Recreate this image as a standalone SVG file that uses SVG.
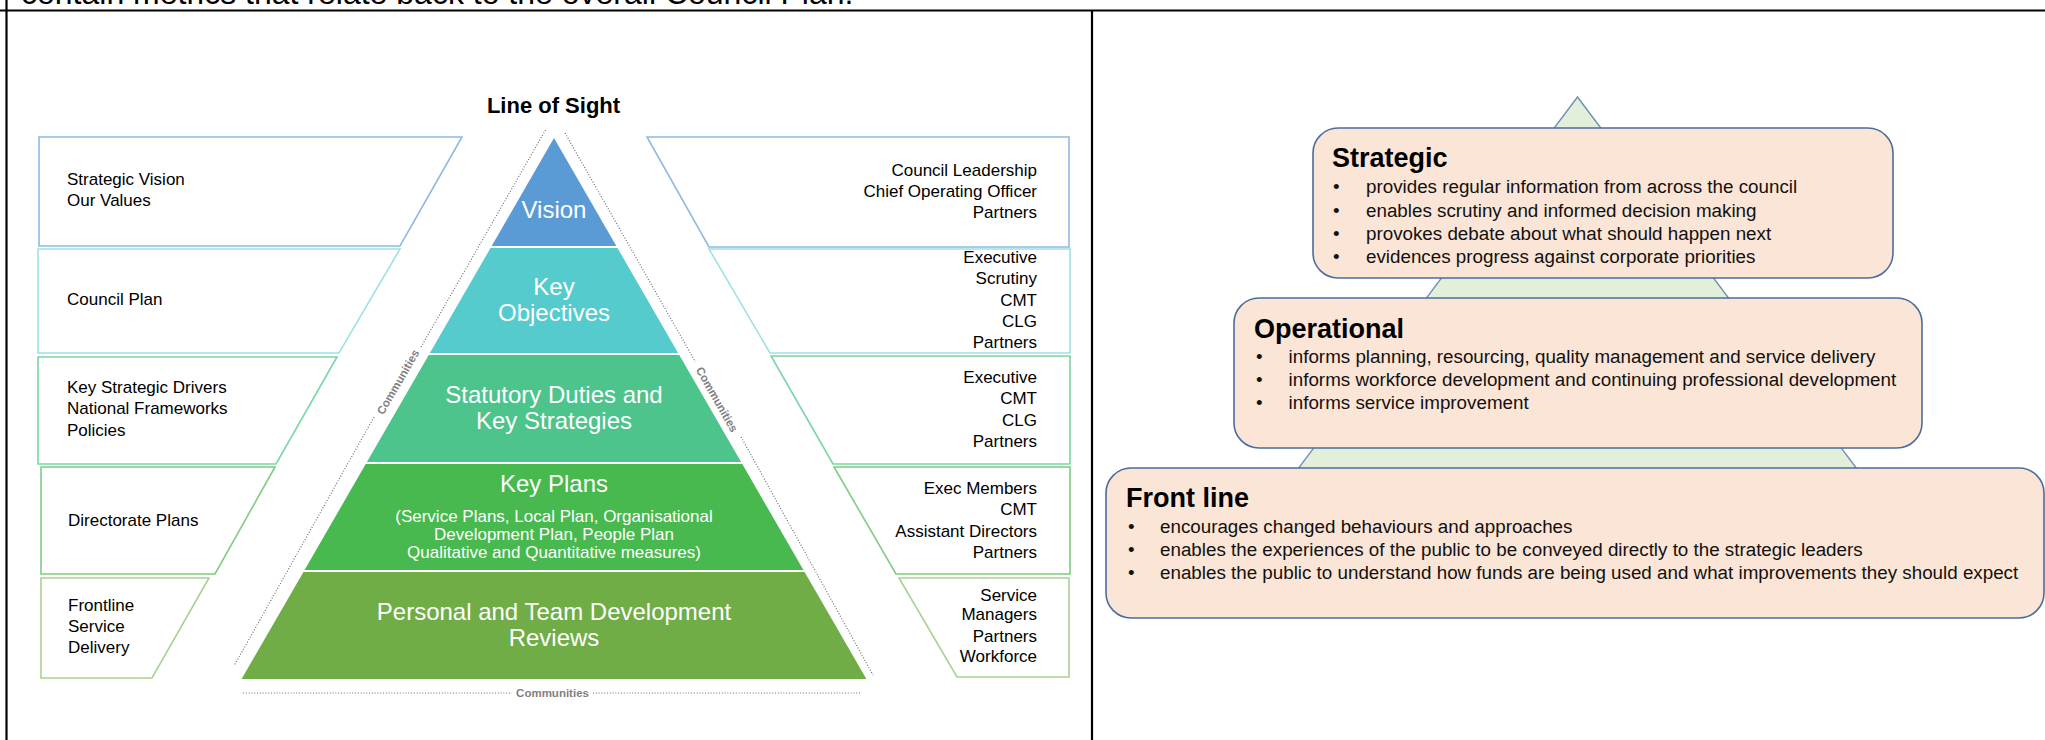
<svg xmlns="http://www.w3.org/2000/svg" width="2045" height="740" viewBox="0 0 2045 740">
<style>
text{font-family:"Liberation Sans",Arial,sans-serif;}
.frame{stroke:#000;stroke-width:2.2;fill:none}
.side{font-size:17px;fill:#000}
.r{text-anchor:end}
.pyr{font-size:24px;fill:#fff;text-anchor:middle}
.sub{font-size:17px;fill:#fff;text-anchor:middle}
.box{fill:#fff;stroke-width:1.6}
.dots{stroke:#707070;stroke-width:1.2;stroke-dasharray:1 1.8;fill:none}
.comm{font-size:11.5px;font-weight:bold;fill:#7f7f7f;text-anchor:middle}
.card{fill:#fbe5d6;stroke:#4a6da0;stroke-width:1.6}
.ttl{font-size:27px;font-weight:bold;fill:#000}
.bl{font-size:18.8px;fill:#111}
.sep{stroke:#fff;stroke-width:2}
</style>

<g id="frame">
<text x="21" y="4" style="font-size:32px;fill:#000">contain metrics that relate back to the overall Council Plan.</text>
<line class="frame" x1="0" y1="10.5" x2="2045" y2="10.5"/>
<line class="frame" x1="6.5" y1="0" x2="6.5" y2="740"/>
<line class="frame" x1="1092" y1="10.5" x2="1092" y2="740"/>
</g>

<g id="title">
<text x="553.5" y="113" text-anchor="middle" style="font-size:22px;font-weight:bold;fill:#000">Line of Sight</text>
</g>

<g id="pyramid">
<g id="layer-vision">
<polygon points="554,138 616.9,247 491.1,247" fill="#5b9bd5"/>
<text class="pyr" x="554" y="218">Vision</text>
</g>
<g id="layer-objectives">
<polygon points="491.1,247 616.9,247 678.7,354 429.3,354" fill="#55cbcd"/>
<text class="pyr" x="554" y="295">Key</text>
<text class="pyr" x="554" y="321">Objectives</text>
</g>
<g id="layer-statutory">
<polygon points="429.3,354 678.7,354 741.7,463 366.3,463" fill="#4ec48d"/>
<text class="pyr" x="554" y="403">Statutory Duties and</text>
<text class="pyr" x="554" y="429">Key Strategies</text>
</g>
<g id="layer-keyplans">
<polygon points="366.3,463 741.7,463 804,571 304,571" fill="#47b94e"/>
<text class="pyr" x="554" y="492">Key Plans</text>
<text class="sub" x="554" y="522">(Service Plans, Local Plan, Organisational</text>
<text class="sub" x="554" y="540">Development Plan, People Plan</text>
<text class="sub" x="554" y="558">Qualitative and Quantitative  measures)</text>
</g>
<g id="layer-personal">
<polygon points="304,571 804,571 866.4,679 241.6,679" fill="#70ad47"/>
<text class="pyr" x="554" y="620">Personal and Team Development</text>
<text class="pyr" x="554" y="646">Reviews</text>
</g>
<line class="sep" x1="480" y1="247" x2="630" y2="247"/>
<line class="sep" x1="420" y1="354" x2="690" y2="354"/>
<line class="sep" x1="355" y1="463" x2="750" y2="463"/>
<line class="sep" x1="295" y1="571" x2="815" y2="571"/>
</g>

<g id="left-boxes">
<g id="l1">
<polygon class="box" stroke="#8fb9e4" points="39,137 462,137 400,246 39,246"/>
<text class="side" x="67" y="185">Strategic Vision</text>
<text class="side" x="67" y="206">Our Values</text>
</g>
<g id="l2">
<polygon class="box" stroke="#9de2e2" points="38,249 400,249 339,353 38,353"/>
<text class="side" x="67" y="305">Council Plan</text>
</g>
<g id="l3">
<polygon class="box" stroke="#7ad5a6" points="38,357 337,357 276,464 38,464"/>
<text class="side" x="67" y="393">Key Strategic Drivers</text>
<text class="side" x="67" y="414">National  Frameworks</text>
<text class="side" x="67" y="436">Policies</text>
</g>
<g id="l4">
<polygon class="box" stroke="#7fcc82" points="41,467 275,467 215,574 41,574"/>
<text class="side" x="68" y="526">Directorate Plans</text>
</g>
<g id="l5">
<polygon class="box" stroke="#a9d18e" points="41,578 209,578 152,678 41,678"/>
<text class="side" x="68" y="611">Frontline</text>
<text class="side" x="68" y="632">Service</text>
<text class="side" x="68" y="653">Delivery</text>
</g>
</g>

<g id="right-boxes">
<g id="r1">
<polygon class="box" stroke="#8fb9e4" points="647,137 1069,137 1069,247 709,247"/>
<text class="side r" x="1037" y="176">Council Leadership</text>
<text class="side r" x="1037" y="197">Chief Operating Officer</text>
<text class="side r" x="1037" y="218">Partners</text>
</g>
<g id="r2">
<polygon class="box" stroke="#9de2e2" points="709,249 1070,249 1070,353 770,353"/>
<text class="side r" x="1037" y="263">Executive</text>
<text class="side r" x="1037" y="284">Scrutiny</text>
<text class="side r" x="1037" y="306">CMT</text>
<text class="side r" x="1037" y="327">CLG</text>
<text class="side r" x="1037" y="348">Partners</text>
</g>
<g id="r3">
<polygon class="box" stroke="#7ad5a6" points="771,356 1070,356 1070,464 833,464"/>
<text class="side r" x="1037" y="383">Executive</text>
<text class="side r" x="1037" y="404">CMT</text>
<text class="side r" x="1037" y="426">CLG</text>
<text class="side r" x="1037" y="447">Partners</text>
</g>
<g id="r4">
<polygon class="box" stroke="#7fcc82" points="834,467 1070,467 1070,574 896,574"/>
<text class="side r" x="1037" y="494">Exec Members</text>
<text class="side r" x="1037" y="515">CMT</text>
<text class="side r" x="1037" y="537">Assistant Directors</text>
<text class="side r" x="1037" y="558">Partners</text>
</g>
<g id="r5">
<polygon class="box" stroke="#a9d18e" points="899,578 1069,578 1069,677 957,677"/>
<text class="side r" x="1037" y="601">Service</text>
<text class="side r" x="1037" y="620">Managers</text>
<text class="side r" x="1037" y="642">Partners</text>
<text class="side r" x="1037" y="662">Workforce</text>
</g>
</g>

<g id="connectors">
<path class="dots" d="M545.5,130 L421,347 M374,417 L234,666"/>
<path class="dots" d="M565,133 L695.5,362 M741,437 L873,675"/>
<path class="dots" d="M243,693 L512,693 M593,693 L862,693"/>
</g>
<g id="communities-labels">
<text class="comm" transform="translate(398,382) rotate(-59.8)" y="4">Communities</text>
<text class="comm" transform="translate(717,399.5) rotate(60.4)" y="4">Communities</text>
<text class="comm" x="552.5" y="697">Communities</text>
</g>

<g id="right-panel">
<g id="triangle">
<polygon points="1577.5,97 1955.5,600 1199.5,600" fill="#e2efda" stroke="#6f8fb5" stroke-width="1.4"/>
</g>
<g id="strategic">
<rect class="card" x="1313" y="128" width="580" height="150" rx="25"/>
<text class="ttl" x="1332" y="167">Strategic</text>
<text class="bl" x="1333" y="193">•</text><text class="bl" x="1366" y="193">provides regular information from across the council</text>
<text class="bl" x="1333" y="217">•</text><text class="bl" x="1366" y="217">enables scrutiny and informed decision making</text>
<text class="bl" x="1333" y="240">•</text><text class="bl" x="1366" y="240">provokes debate about what should happen next</text>
<text class="bl" x="1333" y="263">•</text><text class="bl" x="1366" y="263">evidences progress against corporate priorities</text>
</g>
<g id="operational">
<rect class="card" x="1234" y="298" width="688" height="150" rx="25"/>
<text class="ttl" x="1254" y="338">Operational</text>
<text class="bl" x="1256" y="363">•</text><text class="bl" x="1288.6" y="363">informs planning, resourcing, quality management and service delivery</text>
<text class="bl" x="1256" y="386">•</text><text class="bl" x="1288.6" y="386">informs workforce development and continuing professional development</text>
<text class="bl" x="1256" y="409">•</text><text class="bl" x="1288.6" y="409">informs service improvement</text>
</g>
<g id="frontline">
<rect class="card" x="1106" y="468" width="938" height="150" rx="25"/>
<text class="ttl" x="1126" y="507">Front line</text>
<text class="bl" x="1128" y="533">•</text><text class="bl" x="1160" y="533">encourages changed behaviours and approaches</text>
<text class="bl" x="1128" y="556">•</text><text class="bl" x="1160" y="556">enables the experiences of the public to be conveyed directly to the strategic leaders</text>
<text class="bl" x="1128" y="579">•</text><text class="bl" x="1160" y="579">enables the public to understand how funds are being used and what improvements they should expect</text>
</g>
</g>
</svg>
